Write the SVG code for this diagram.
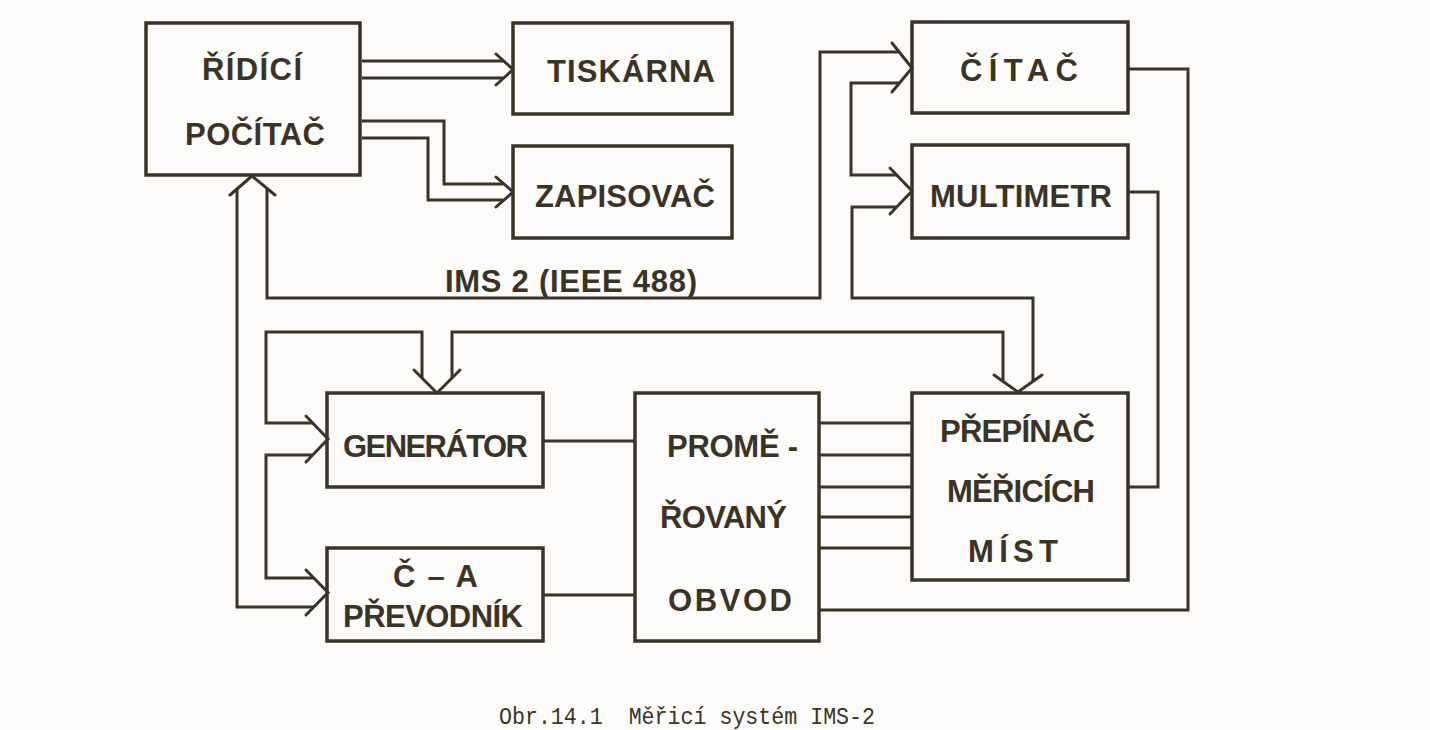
<svg xmlns="http://www.w3.org/2000/svg" width="1430" height="730" viewBox="0 0 1430 730">
<style>
.bg{fill:#fcfbf9}
.box{fill:none;stroke:#3a3428;stroke-width:3.5;stroke-linejoin:miter}
.ln{fill:none;stroke:#3a3428;stroke-width:3;stroke-linejoin:miter;stroke-linecap:butt}
.hd{fill:none;stroke:#3a3428;stroke-width:3;stroke-linejoin:miter;stroke-linecap:round}
.t{font-family:"Liberation Sans",Arial,sans-serif;font-weight:bold;font-size:31px;fill:#3a3428}
.cap{font-family:"Liberation Mono","Courier New",monospace;font-size:23px;fill:#3a3428;white-space:pre}
</style>
<rect class="bg" x="0" y="0" width="1430" height="730"/>

<g id="connectors">
  <!-- Ridici -> Tiskarna -->
  <path class="ln" d="M362,61 H503 M362,78 H503"/>
  <polyline class="hd" points="496,54 513,69.5 496,85"/>
  <!-- Ridici -> Zapisovac -->
  <path class="ln" d="M362,121 H444 V184 H503 M362,138 H428 V200 H503"/>
  <polyline class="hd" points="496,177 513,192 496,207"/>
  <!-- Bus into Ridici bottom -->
  <polyline class="hd" points="230,195 252,176 275,195"/>
  <!-- IMS bus: Ridici -> Citac upper -->
  <path class="ln" d="M267,188 V298 H820 V52 H899"/>
  <polyline class="hd" points="892,43 912,68 892,92"/>
  <!-- Citac lower -> Multimetr upper -->
  <path class="ln" d="M900,83 H851 V175 H897"/>
  <polyline class="hd" points="890,168 912,191 890,214"/>
  <!-- Multimetr lower -> Prepinac top -->
  <path class="ln" d="M897,207 H852 V298 H1033 V381"/>
  <polyline class="hd" points="994,375 1018,392 1042,375"/>
  <!-- Prepinac top left -> Generator top right -->
  <path class="ln" d="M1003,381 V332 H452 V378"/>
  <polyline class="hd" points="414,370 437,393 460,370"/>
  <!-- Generator top left -> Generator left upper -->
  <path class="ln" d="M422,378 V332 H266 V423 H313"/>
  <polyline class="hd" points="306,416 328,439 306,462"/>
  <!-- Generator left lower -> C-A upper -->
  <path class="ln" d="M313,455 H266 V578 H314"/>
  <polyline class="hd" points="306,570 328,592.5 306,615"/>
  <!-- C-A lower -> Ridici outer -->
  <path class="ln" d="M314,607 H237 V188"/>
  <!-- Generator / C-A -> Obvod -->
  <path class="ln" d="M543,441 H635 M543,595 H635"/>
  <!-- Obvod -> Prepinac (5 lines) -->
  <path class="ln" d="M819,423 H912 M819,455 H912 M819,487 H912 M819,517 H912 M819,548 H912"/>
  <!-- Citac right -> Obvod bottom -->
  <path class="ln" d="M1128,69 H1188 V610 H819"/>
  <!-- Multimetr right -> Prepinac right -->
  <path class="ln" d="M1128,192 H1158 V487 H1128"/>
</g>

<g id="ridici">
  <rect class="box" x="146" y="23" width="214" height="152"/>
  <text class="t" x="202" y="80" textLength="100" lengthAdjust="spacing">ŘÍDÍCÍ</text>
  <text class="t" x="185" y="145" textLength="140" lengthAdjust="spacing">POČÍTAČ</text>
</g>
<g id="tiskarna">
  <rect class="box" x="513" y="23" width="219" height="91"/>
  <text class="t" x="547" y="82" textLength="168" lengthAdjust="spacing">TISKÁRNA</text>
</g>
<g id="zapisovac">
  <rect class="box" x="513" y="146" width="219" height="92"/>
  <text class="t" x="535" y="207" textLength="180" lengthAdjust="spacing">ZAPISOVAČ</text>
</g>
<g id="citac">
  <rect class="box" x="912" y="22" width="216" height="91"/>
  <text class="t" x="960" y="81" textLength="118" lengthAdjust="spacing">ČÍTAČ</text>
</g>
<g id="multimetr">
  <rect class="box" x="912" y="145" width="216" height="93"/>
  <text class="t" x="930" y="207" textLength="182" lengthAdjust="spacing">MULTIMETR</text>
</g>
<g id="bus-label">
  <text class="t" x="445" y="292" textLength="252" lengthAdjust="spacing">IMS 2 (IEEE 488)</text>
</g>
<g id="generator">
  <rect class="box" x="327" y="393" width="216" height="94"/>
  <text class="t" x="343" y="457" textLength="185" lengthAdjust="spacing">GENERÁTOR</text>
</g>
<g id="ca-prevodnik">
  <rect class="box" x="327" y="548" width="216" height="93"/>
  <text class="t" x="393" y="587" textLength="85" lengthAdjust="spacing">Č – A</text>
  <text class="t" x="343" y="627" textLength="180" lengthAdjust="spacing">PŘEVODNÍK</text>
</g>
<g id="obvod">
  <rect class="box" x="635" y="393" width="184" height="248"/>
  <text class="t" x="667" y="457" textLength="131" lengthAdjust="spacing">PROMĚ -</text>
  <text class="t" x="660" y="528" textLength="127" lengthAdjust="spacing">ŘOVANÝ</text>
  <text class="t" x="668" y="611" textLength="124" lengthAdjust="spacing">OBVOD</text>
</g>
<g id="prepinac">
  <rect class="box" x="912" y="393" width="216" height="187"/>
  <text class="t" x="940" y="442" textLength="155" lengthAdjust="spacing">PŘEPÍNAČ</text>
  <text class="t" x="947" y="502" textLength="148" lengthAdjust="spacing">MĚŘICÍCH</text>
  <text class="t" x="968" y="562" textLength="90" lengthAdjust="spacing">MÍST</text>
</g>
<g id="caption">
  <text class="cap" x="499" y="724" textLength="376" lengthAdjust="spacingAndGlyphs" xml:space="preserve">Obr.14.1  Měřicí systém IMS-2</text>
</g>
</svg>
